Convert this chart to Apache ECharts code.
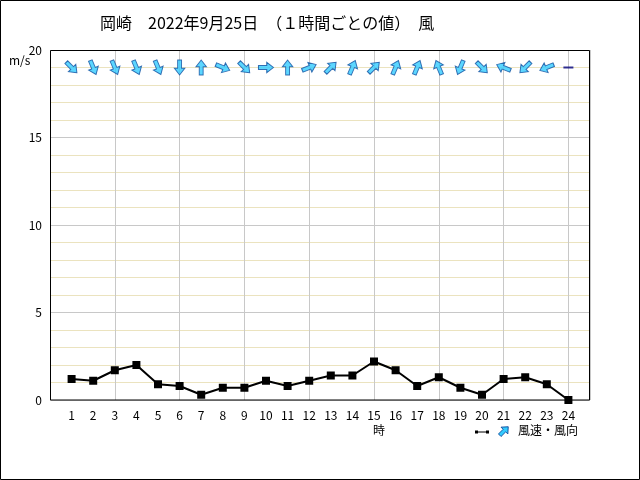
<!DOCTYPE html>
<html>
<head>
<meta charset="utf-8">
<script src="https://cdn.jsdelivr.net/npm/echarts@6/dist/echarts.min.js"></script>
<style>
html,body{margin:0;padding:0;background:#fff;}
#c{width:640px;height:480px;}
</style>
</head>
<body>
<div id="c"></div>
<script>
// hours
var hours = [1,2,3,4,5,6,7,8,9,10,11,12,13,14,15,16,17,18,19,20,21,22,23,24];
// wind speed m/s
var speeds = [1.2,1.1,1.7,2.0,0.9,0.8,0.3,0.7,0.7,1.1,0.8,1.1,1.4,1.4,2.2,1.7,0.8,1.3,0.7,0.3,1.2,1.3,0.9,0.0];
// wind direction (from), 16-point, '静穏' = calm
var directions = ['北西','北北西','北北西','北北西','北北西','北','南','西北西','北西','西','南','西南西',
                  '南西','南南西','南西','南南西','南南西','南南東','北北東','北西','東南東','北東','東北東','静穏'];
var compass16 = ['北','北北東','北東','東北東','東','東南東','南東','南南東','南','南南西','南西','西南西','西','西北西','北西','北北西'];
var yTicks = [0,5,10,15,20];
var arrowLevel = 19;

var arrowPath = 'path://M0,-10 L8,-1 L3,-1 L3,10 L-3,10 L-3,-1 L-8,-1 Z';

var lineData = hours.map(function(h,i){return [h, speeds[i]];});
var arrowData = [], calmData = [];
hours.forEach(function(h,i){
  var d = directions[i];
  var k = compass16.indexOf(d);
  if (k < 0) { calmData.push([h, arrowLevel]); return; }
  var to = (k*22.5 + 180) % 360;
  arrowData.push({value:[h, arrowLevel], symbolRotate: -to});
});

var chart = echarts.init(document.getElementById('c'), null, {renderer:'canvas'});
var font = '"Noto Sans CJK JP", sans-serif';
chart.setOption({
  animation:false,
  textStyle:{fontFamily:font},
  grid:{left:50, right:50, top:50, bottom:80, show:false},
  xAxis:[{
    type:'value', min:0, max:25, interval:1,
    axisLine:{show:false}, axisTick:{show:false},
    splitLine:{show:false},
    axisLabel:{color:'#000', fontSize:12, fontFamily:font, margin:9,
      formatter:function(v){return (v>=1 && v<=24) ? String(v) : '';}}
  },{
    type:'value', min:0, max:25, interval:3, position:'bottom',
    axisLine:{show:false}, axisTick:{show:false}, axisLabel:{show:false},
    splitLine:{show:true, lineStyle:{color:'#c8c8c8', width:1}}
  }],
  yAxis:{
    type:'value', min:yTicks[0], max:yTicks[yTicks.length-1], interval:5,
    axisLine:{show:false}, axisTick:{show:false},
    axisLabel:{color:'#000', fontSize:12, fontFamily:font, margin:8},
    splitLine:{show:true, lineStyle:{color:'#c8c8c8', width:1}},
    minorTick:{show:false, splitNumber:5},
    minorSplitLine:{show:true, lineStyle:{color:'#ebe3bf', width:1}}
  },
  series:[{
    type:'line', xAxisIndex:0, data:lineData,
    lineStyle:{color:'#000', width:2},
    itemStyle:{color:'#000'},
    symbol:'rect', symbolSize:8, showSymbol:true, z:5
  },{
    type:'scatter', xAxisIndex:0, data:arrowData,
    symbol:arrowPath, symbolSize:[13,15], symbolKeepAspect:true,
    itemStyle:{color:'#33ccff', borderColor:'#1050a0', borderWidth:1}, z:6
  },{
    type:'scatter', xAxisIndex:0, data:calmData,
    symbol:'rect', symbolSize:[10,2],
    itemStyle:{color:'#000080'}, z:6
  }],
  graphic:[
    {type:'rect', shape:{x:0.5,y:0.5,width:639,height:479}, style:{fill:'none', stroke:'#000', lineWidth:1}, silent:true, z:100},
    {type:'rect', shape:{x:50.5,y:50.5,width:539,height:349.5}, style:{fill:'none', stroke:'#000', lineWidth:1}, silent:true, z:100},
    {type:'text', x:100, y:15, style:{text:'岡崎　2022年9月25日　（１時間ごとの値）　風', font:'16px '+font, fill:'#000'}},
    {type:'text', x:9, y:54, style:{text:'m/s', font:'12px '+font, fill:'#000'}},
    {type:'text', x:373, y:424, style:{text:'時', font:'12px '+font, fill:'#000'}},
    {type:'line', shape:{x1:476,y1:432,x2:488,y2:432}, style:{stroke:'#000', lineWidth:1}},
    {type:'rect', shape:{x:475,y:430.5,width:3,height:3}, style:{fill:'#000'}},
    {type:'rect', shape:{x:486,y:430.5,width:3,height:3}, style:{fill:'#000'}},
    {type:'polygon', shape:{points:[[0,-10],[8,-1],[3,-1],[3,10],[-3,10],[-3,-1],[-8,-1]]}, x:504, y:431, scaleX:0.6, scaleY:0.6, rotation:-Math.PI/4,
      style:{fill:'#33ccff', stroke:'#1050a0', lineWidth:1.5}},
    {type:'text', x:518, y:424, style:{text:'風速・風向', font:'12px '+font, fill:'#000'}}
  ]
});
</script>
</body>
</html>
